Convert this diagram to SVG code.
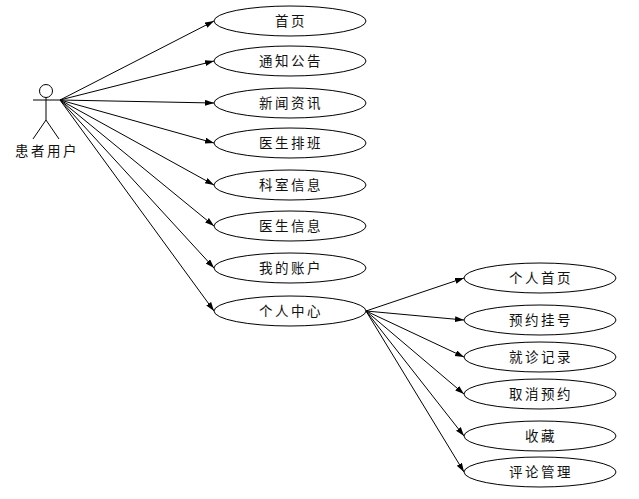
<svg xmlns="http://www.w3.org/2000/svg" width="639" height="499" viewBox="0 0 639 499">
<style>
.n{fill:#fff;stroke:#000;stroke-width:1}
.t{font-family:"Noto Sans CJK SC","Liberation Sans",sans-serif;font-size:13.500px;letter-spacing:2.500px;text-anchor:middle;fill:#111}
.c line{stroke:#000;stroke-width:1;marker-end:url(#a)}
.s{fill:none;stroke:#000;stroke-width:1}
</style>
<defs><marker id="a" markerUnits="userSpaceOnUse" markerWidth="10" markerHeight="8" refX="9" refY="3" orient="auto"><path d="M0 0L9 3L0 6z" fill="#000"/></marker></defs>
<rect width="639" height="499" fill="#fff"/>
<g id="connectors" class="c">
<line x1="60" y1="100" x2="214" y2="21"/>
<line x1="60" y1="100" x2="214" y2="61"/>
<line x1="60" y1="100" x2="214" y2="103"/>
<line x1="60" y1="100" x2="214" y2="143"/>
<line x1="60" y1="100" x2="214" y2="185"/>
<line x1="60" y1="100" x2="214" y2="226"/>
<line x1="60" y1="100" x2="214" y2="268"/>
<line x1="60" y1="100" x2="214" y2="311"/>
<line x1="366" y1="311" x2="464" y2="278"/>
<line x1="366" y1="311" x2="464" y2="320"/>
<line x1="366" y1="311" x2="464" y2="357"/>
<line x1="366" y1="311" x2="464" y2="394"/>
<line x1="366" y1="311" x2="464" y2="436"/>
<line x1="366" y1="311" x2="464" y2="472"/>
</g>
<g id="actor"><circle class="s" cx="46" cy="91" r="6.500"/><path class="s" d="M46 97.500V120M33 100H60M46 120L33 139M46 120L59 139"/><text class="t" x="47" y="156">患者用户</text></g>
<g id="n1"><ellipse class="n" cx="290" cy="21" rx="76" ry="15"/><text class="t" x="291" y="26">首页</text></g>
<g id="n2"><ellipse class="n" cx="290" cy="61" rx="76" ry="15"/><text class="t" x="291" y="66">通知公告</text></g>
<g id="n3"><ellipse class="n" cx="290" cy="103" rx="76" ry="15"/><text class="t" x="291" y="108">新闻资讯</text></g>
<g id="n4"><ellipse class="n" cx="290" cy="143" rx="76" ry="15"/><text class="t" x="291" y="148">医生排班</text></g>
<g id="n5"><ellipse class="n" cx="290" cy="185" rx="76" ry="15"/><text class="t" x="291" y="190">科室信息</text></g>
<g id="n6"><ellipse class="n" cx="290" cy="226" rx="76" ry="15"/><text class="t" x="291" y="231">医生信息</text></g>
<g id="n7"><ellipse class="n" cx="290" cy="268" rx="76" ry="15"/><text class="t" x="291" y="273">我的账户</text></g>
<g id="n8"><ellipse class="n" cx="290" cy="311" rx="76" ry="15"/><text class="t" x="291" y="316">个人中心</text></g>
<g id="n9"><ellipse class="n" cx="540" cy="278" rx="76" ry="15"/><text class="t" x="541" y="283">个人首页</text></g>
<g id="n10"><ellipse class="n" cx="540" cy="320" rx="76" ry="15"/><text class="t" x="541" y="325">预约挂号</text></g>
<g id="n11"><ellipse class="n" cx="540" cy="357" rx="76" ry="15"/><text class="t" x="541" y="362">就诊记录</text></g>
<g id="n12"><ellipse class="n" cx="540" cy="394" rx="76" ry="15"/><text class="t" x="541" y="399">取消预约</text></g>
<g id="n13"><ellipse class="n" cx="540" cy="436" rx="76" ry="15"/><text class="t" x="541" y="441">收藏</text></g>
<g id="n14"><ellipse class="n" cx="540" cy="472" rx="76" ry="15"/><text class="t" x="541" y="477">评论管理</text></g>
</svg>
